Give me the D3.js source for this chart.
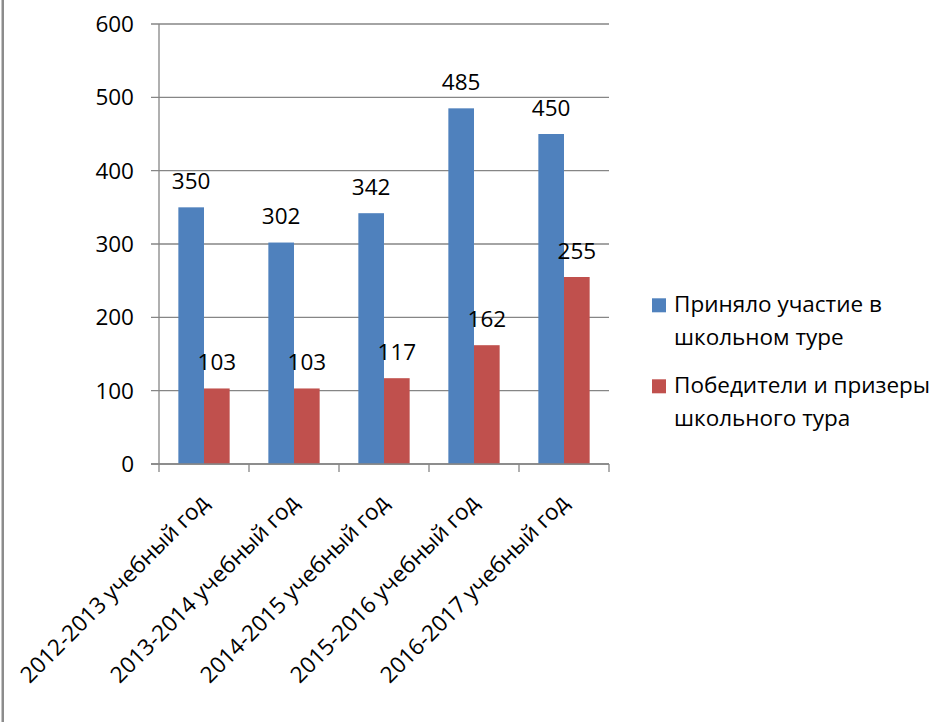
<!DOCTYPE html>
<html><head><meta charset="utf-8">
<script src="https://cdn.jsdelivr.net/npm/d3@7/dist/d3.min.js"></script>
<style>
html,body{margin:0;padding:0;background:#fff;}
text{font-family:"Open Sans","Noto Sans",sans-serif;fill:#000;}
</style></head>
<body><svg id="c" width="938" height="722"></svg>
<script>
const categories = ["2012-2013 учебный год","2013-2014 учебный год","2014-2015 учебный год","2015-2016 учебный год","2016-2017 учебный год"];
const participants = [350, 302, 342, 485, 450];
const winners = [103, 103, 117, 162, 255];
const seriesNames = ["Приняло участие в школьном туре", "Победители и призеры школьного тура"];
const legendLines = [["Приняло участие в","школьном туре"],["Победители и призеры","школьного тура"]];
const yTicks = [0,100,200,300,400,500,600];
const colors = ["#4F81BD","#C0504D"];

const svg = d3.select("#c");
const fs = 22.5;
// left border
svg.append("rect").attr("x",1.5).attr("y",0).attr("width",2.5).attr("height",722).attr("fill","#8c8c8c");

const L=159, R=609, T=24, B=464;
const x = d3.scaleBand().domain(categories).range([L,R]).paddingInner(0.43).paddingOuter(0.215);
const x1 = d3.scaleBand().domain([0,1]).range([0,x.bandwidth()]);
const y = d3.scaleLinear().domain([0,600]).range([B,T]);

const g = svg.append("g");
// grid
g.selectAll("line.grid").data(yTicks).join("line")
  .attr("x1",L-8).attr("x2",R).attr("y1",d=>y(d)).attr("y2",d=>y(d))
  .attr("stroke","#868686").attr("stroke-width",1.3);
// y labels
g.selectAll("text.yl").data(yTicks).join("text")
  .attr("x",134).attr("y",d=>y(d)).attr("dy","0.36em").attr("text-anchor","end")
  .style("font-size",fs+"px").text(d=>d);
// y axis line
g.append("line").attr("x1",L).attr("x2",L).attr("y1",T).attr("y2",B).attr("stroke","#868686").attr("stroke-width",1.3);

const series = [participants, winners];
series.forEach((vals,si)=>{
  g.selectAll("rect.s"+si).data(vals).join("rect")
    .attr("x",(d,i)=>x(categories[i])+x1(si)).attr("width",x1.bandwidth())
    .attr("y",d=>y(d)).attr("height",d=>B-y(d)).attr("fill",colors[si]);
});
series.forEach((vals,si)=>{
  g.selectAll("text.l"+si).data(vals).join("text")
    .attr("x",(d,i)=>x(categories[i])+x1(si)+x1.bandwidth()/2)
    .attr("y",d=>y(d)-18.5).attr("text-anchor","middle")
    .style("font-size",fs+"px").text(d=>d);
});
// x axis
g.append("line").attr("x1",L-8).attr("x2",R).attr("y1",B).attr("y2",B).attr("stroke","#868686").attr("stroke-width",1.3);
const step = (R-L)/categories.length;
g.selectAll("line.xt").data(d3.range(categories.length+1)).join("line")
  .attr("x1",i=>L+i*step).attr("x2",i=>L+i*step).attr("y1",B).attr("y2",B+8)
  .attr("stroke","#868686").attr("stroke-width",1.3);
// x labels
g.selectAll("text.xl").data(categories).join("text")
  .attr("text-anchor","end")
  .attr("transform",d=>`translate(${x(d)+x.bandwidth()/2+6},${B+40}) rotate(-45)`)
  .style("font-size","22.5px").text(d=>d);

// legend
const lg = svg.append("g");
const legY = [298.3, 379.3];
seriesNames.forEach((n,si)=>{
  lg.append("rect").attr("x",652).attr("y",legY[si]).attr("width",14).attr("height",14).attr("fill",colors[si]);
  legendLines[si].forEach((ln,k)=>{
    lg.append("text").attr("x",674).attr("y",legY[si]+14+k*32.5).style("font-size",fs+"px").text(ln);
  });
});
</script></body></html>
